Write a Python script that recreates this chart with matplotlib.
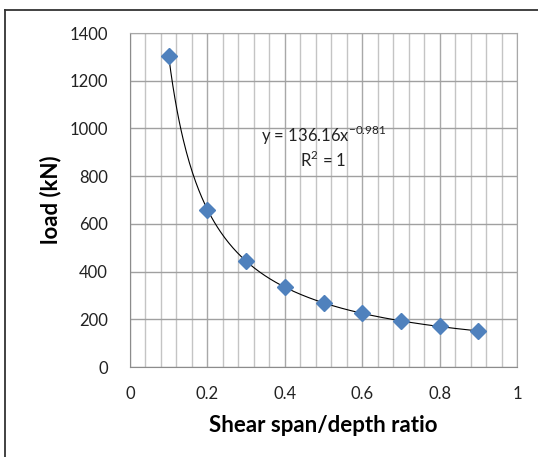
import numpy as np
import matplotlib.pyplot as plt
from matplotlib.lines import Line2D
from matplotlib.ticker import MultipleLocator

plt.rcParams['font.family'] = ['Lato', 'DejaVu Sans']

# measured points
ratio = [0.1, 0.2, 0.3, 0.4, 0.5, 0.6, 0.7, 0.8, 0.9]
load = [1303, 660, 444, 335, 269, 225, 193, 170, 151]

x_ticks = [0, 0.2, 0.4, 0.6, 0.8, 1]
x_tick_labels = ["0", "0.2", "0.4", "0.6", "0.8", "1"]
y_ticks = [0, 200, 400, 600, 800, 1000, 1200, 1400]

W, H = 538, 457
fig = plt.figure(figsize=(W / 100, H / 100), dpi=100)
ax = fig.add_axes([130 / W, 1 - 367 / H, 387 / W, 334 / H])

# power-law trendline fitted in log space
b, log_a = np.polyfit(np.log(ratio), np.log(load), 1)
xs = np.linspace(min(ratio), max(ratio), 300)
ax.plot(xs, np.exp(log_a) * xs ** b, color='black', lw=0.8, zorder=3)
ax.plot(ratio, load, linestyle='none', marker='D', ms=8.5,
        color='#4F81BD', mec='#4F81BD', zorder=4)

ax.set_xlim(0, 1)
ax.set_ylim(0, 1400)
ax.set_xticks(x_ticks)
ax.set_xticklabels(x_tick_labels)
ax.set_yticks(y_ticks)
ax.xaxis.set_minor_locator(MultipleLocator(0.04))
ax.grid(True, which='major', axis='y', color='#A0A0A0', lw=1.0)
ax.grid(True, which='major', axis='x', color='#A8A8A8', lw=1.0)
ax.grid(True, which='minor', axis='x', color='#C4C4C4', lw=1.0)
ax.set_axisbelow(True)
ax.tick_params(which='both', length=0, labelsize=12, colors='#222222')
ax.tick_params(axis='x', pad=14)
ax.tick_params(axis='y', pad=16)
for side in ['left', 'bottom']:
    ax.spines[side].set_color('#8C8C8C')
for side in ['top', 'right']:
    ax.spines[side].set_color('#A8A8A8')

ax.set_xlabel("Shear span/depth ratio", fontsize=16, fontweight='bold')
ax.set_ylabel("load (kN)", fontsize=16, fontweight='bold')
ax.xaxis.set_label_coords(0.5, -0.143)
ax.yaxis.set_label_coords(-0.177, 0.5)

ax.text(0.5, 972, r"y = 136.16x$^{\mathregular{-0.981}}$", ha='center', va='center',
        fontsize=12, color='#222222')
ax.text(0.5, 866, r"R$^{\mathregular{2}}$ = 1", ha='center', va='center',
        fontsize=12, color='#222222')

# outer chart frame (left and top edges)
fig.add_artist(Line2D([4.5 / W, 4.5 / W], [0, 1 - 10 / H], transform=fig.transFigure,
                      color='#333333', lw=1.3))
fig.add_artist(Line2D([4.5 / W, 1], [1 - 10 / H, 1 - 10 / H], transform=fig.transFigure,
                      color='#333333', lw=1.3))

fig.savefig("out.png", dpi=100)
